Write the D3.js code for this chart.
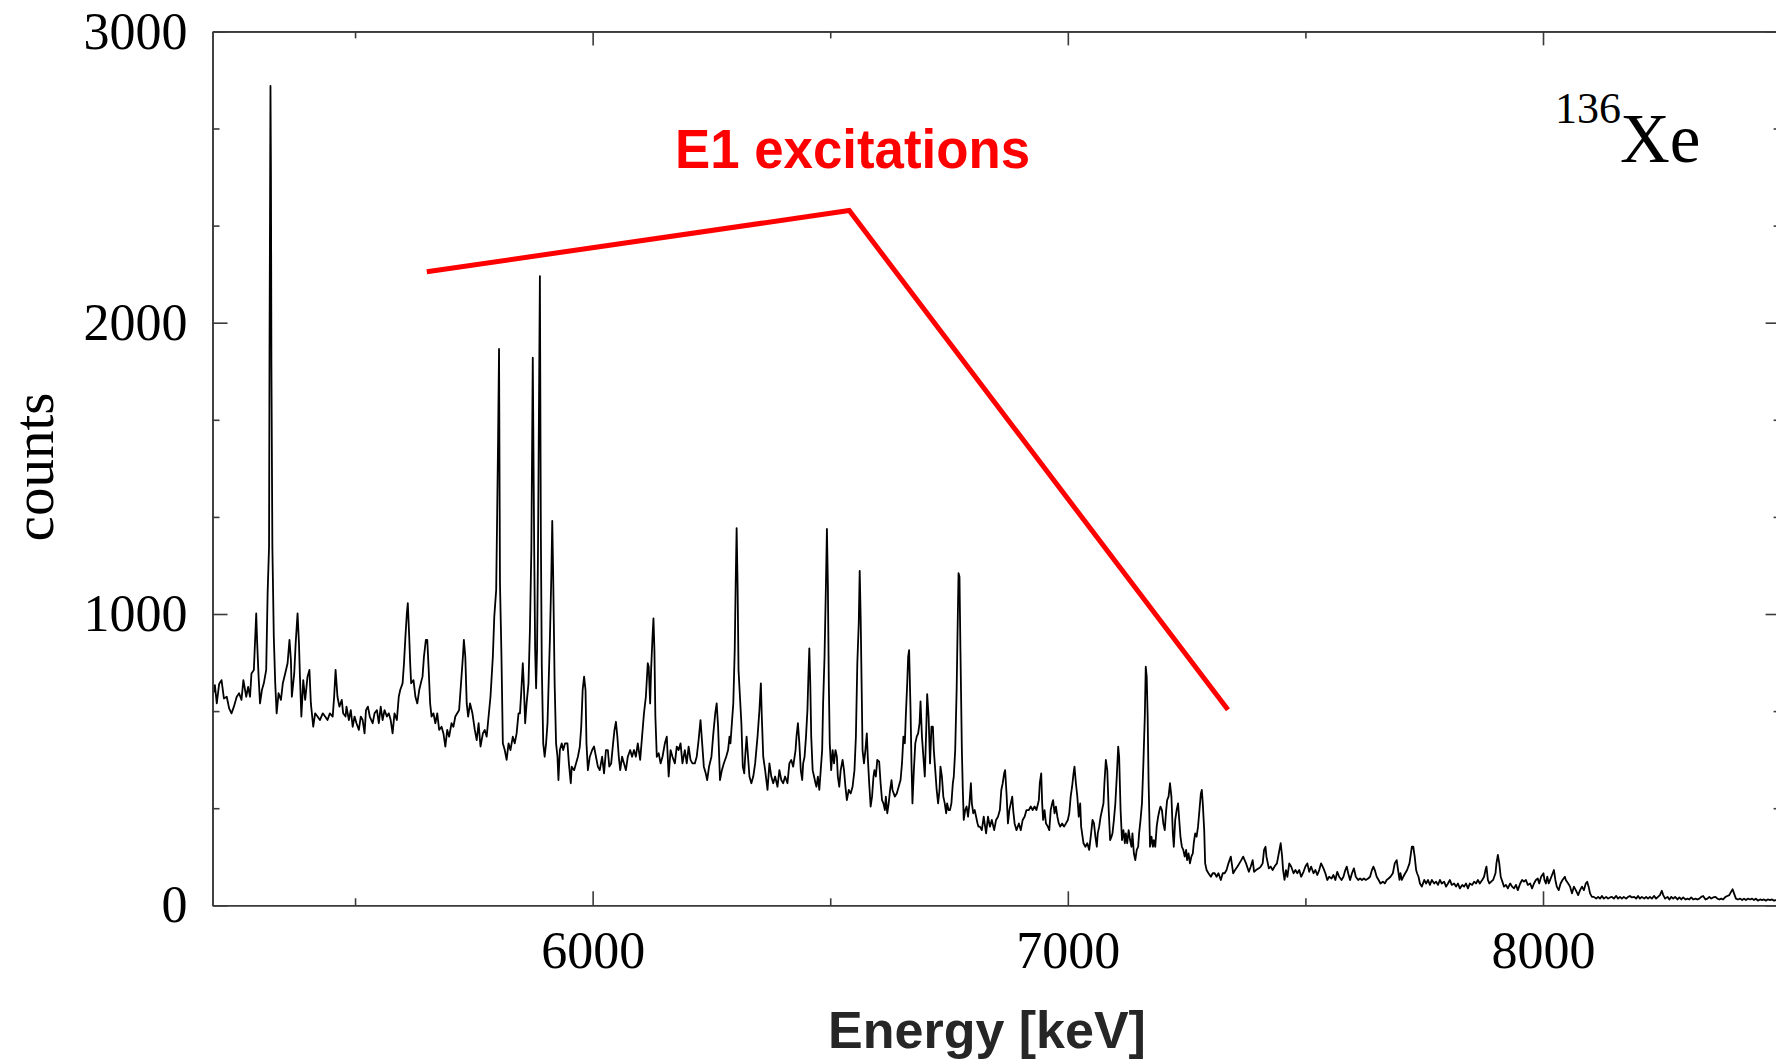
<!DOCTYPE html>
<meta charset="utf-8">
<html>
<head>
<style>
  body { margin: 0; background: #fff; }
  .frame .domain, .frame line { stroke: #3a3a3a; stroke-width: 1.6; }
  .frame text { font-family: "Liberation Serif", "Times New Roman", serif; font-size: 52px; fill: #000; }
</style>
<script src="https://d3js.org/d3.v7.min.js"></script>
</head>
<body>
<svg width="1776" height="1060"></svg>
<script>

// spectrum: energy [keV] and counts
var energy = [
  5200,5205,5209,5214,5219,5224,5230,5235,5240,5245,5251,5256,5261,5265,5271,5275,5279,5282,5287,5292,
  5294,5297,5300,5304,5308,5313,5316,5319,5320,5322,5323,5324,5326,5329,5332,5335,5339,5344,5348,5353,
  5358,5362,5365,5367,5372,5375,5379,5382,5384,5387,5391,5395,5400,5404,5407,5412,5416,5421,5426,5432,
  5437,5442,5447,5453,5456,5459,5463,5467,5472,5475,5480,5482,5487,5491,5495,5499,5503,5508,5512,5516,
  5520,5523,5527,5531,5537,5541,5546,5550,5554,5558,5562,5567,5571,5575,5579,5583,5588,5592,5595,5600,
  5603,5606,5609,5611,5614,5616,5618,5623,5627,5631,5635,5640,5642,5645,5649,5652,5655,5658,5661,5665,
  5669,5673,5677,5682,5686,5690,5694,5698,5703,5707,5711,5715,5719,5723,5727,5729,5732,5735,5738,5742,
  5747,5752,5756,5760,5764,5769,5773,5777,5781,5785,5790,5793,5797,5799,5801,5803,5805,5808,5811,5815,
  5819,5823,5827,5832,5836,5840,5844,5847,5850,5853,5855,5858,5861,5865,5868,5871,5874,5877,5879,5881,
  5883,5885,5887,5889,5891,5893,5896,5899,5902,5905,5907,5910,5913,5915,5917,5920,5923,5926,5928,5931,
  5935,5938,5942,5947,5950,5954,5956,5961,5965,5969,5973,5976,5979,5982,5985,5987,5990,5994,5999,6003,
  6007,6011,6015,6020,6024,6028,6032,6035,6039,6043,6046,6049,6052,6055,6058,6062,6066,6070,6074,6079,
  6083,6087,6091,6095,6100,6104,6108,6112,6116,6118,6121,6123,6126,6128,6130,6132,6135,6139,6143,6147,
  6152,6156,6160,6164,6168,6173,6177,6181,6185,6189,6194,6198,6202,6206,6210,6215,6219,6223,6227,6230,
  6234,6238,6241,6245,6250,6254,6258,6261,6264,6268,6272,6276,6281,6285,6288,6290,6293,6296,6299,6301,
  6303,6305,6307,6310,6313,6316,6319,6321,6324,6327,6330,6334,6338,6342,6347,6351,6354,6356,6359,6363,
  6368,6372,6376,6380,6384,6389,6393,6397,6401,6405,6410,6414,6418,6422,6427,6429,6432,6435,6438,6441,
  6443,6446,6449,6452,6454,6456,6458,6460,6463,6466,6469,6471,6474,6477,6480,6483,6485,6488,6491,6493,
  6495,6497,6499,6502,6505,6508,6511,6514,6516,6519,6522,6526,6529,6532,6535,6539,6543,6547,6551,6554,
  6557,6560,6562,6564,6566,6568,6571,6574,6577,6579,6582,6585,6588,6591,6593,6596,6599,6603,6606,6609,
  6612,6615,6617,6620,6623,6626,6629,6631,6636,6640,6644,6648,6651,6654,6657,6659,6662,6664,6666,6669,
  6671,6673,6676,6679,6682,6685,6688,6690,6693,6696,6699,6702,6704,6707,6710,6713,6716,6718,6721,6724,
  6727,6730,6732,6735,6738,6741,6744,6746,6749,6752,6755,6758,6760,6763,6766,6768,6770,6772,6774,6777,
  6779,6781,6784,6787,6790,6793,6796,6798,6801,6804,6807,6810,6812,6815,6819,6823,6828,6832,6836,6840,
  6845,6849,6853,6857,6860,6863,6866,6868,6871,6874,6877,6880,6883,6885,6888,6892,6897,6901,6905,6909,
  6913,6918,6922,6926,6930,6934,6939,6941,6944,6946,6948,6951,6954,6958,6961,6964,6967,6969,6972,6975,
  6978,6981,6984,6988,6992,6996,7000,7003,7006,7009,7012,7014,7017,7020,7023,7026,7028,7033,7037,7041,
  7045,7049,7052,7055,7058,7061,7063,7066,7069,7072,7075,7077,7080,7083,7086,7089,7092,7094,7097,7100,
  7103,7106,7108,7111,7114,7117,7120,7122,7125,7128,7131,7134,7136,7139,7142,7145,7148,7150,7153,7156,
  7159,7162,7164,7166,7168,7170,7173,7176,7179,7181,7184,7187,7190,7193,7195,7198,7201,7204,7207,7209,
  7212,7215,7218,7221,7223,7226,7229,7232,7235,7237,7240,7243,7246,7249,7251,7254,7257,7260,7263,7265,
  7268,7271,7274,7277,7280,7282,7284,7287,7289,7292,7296,7301,7305,7309,7313,7317,7322,7326,7330,7334,
  7338,7343,7345,7348,7352,7357,7361,7365,7369,7375,7381,7385,7389,7392,7396,7402,7406,7410,7413,7416,
  7418,7423,7427,7431,7435,7440,7444,7448,7451,7453,7456,7459,7462,7466,7470,7475,7479,7483,7487,7491,
  7496,7500,7504,7508,7512,7517,7521,7525,7529,7533,7538,7542,7546,7550,7555,7559,7563,7567,7571,7576,
  7580,7584,7587,7590,7594,7598,7602,7606,7611,7615,7619,7623,7627,7632,7636,7640,7643,7646,7650,7654,
  7658,7663,7667,7671,7675,7679,7684,7688,7692,7695,7698,7700,7703,7706,7710,7714,7719,7722,7724,7727,
  7730,7733,7735,7738,7741,7745,7750,7754,7758,7762,7766,7771,7775,7779,7783,7787,7792,7796,7800,7804,
  7808,7813,7817,7821,7825,7830,7834,7838,7842,7846,7851,7855,7859,7863,7867,7872,7876,7879,7881,7884,
  7887,7891,7895,7900,7902,7905,7908,7911,7918,7922,7926,7931,7935,7939,7943,7947,7952,7956,7960,7964,
  7968,7973,7977,7981,7985,7989,7992,7996,8001,8003,8006,8009,8012,8015,8019,8023,8026,8029,8033,8037,
  8041,8046,8048,8053,8057,8061,8065,8069,8074,8078,8082,8086,8090,8093,8096,8099,8103,8107,8112,8116,
  8120,8124,8128,8133,8137,8141,8145,8149,8154,8158,8162,8166,8170,8175,8179,8183,8187,8192,8196,8200,
  8204,8208,8213,8217,8221,8225,8229,8234,8238,8242,8246,8250,8253,8257,8262,8266,8270,8274,8278,8283,
  8287,8291,8295,8300,8304,8308,8312,8316,8321,8325,8329,8333,8337,8342,8346,8350,8354,8358,8363,8367,
  8371,8375,8379,8384,8388,8392,8396,8399,8402,8406,8410,8415,8419,8423,8427,8431,8436,8440,8444,8448,
  8452,8457,8461,8465,8469,8473,8478,8482,8486,8490,8500
];

var counts = [
  716,756,693,760,773,710,716,676,659,682,716,728,705,773,716,750,716,796,808,1002,
  900,785,693,739,762,808,1071,1231,1900,2813,2513,1850,1231,922,762,659,728,705,762,796,
  831,911,842,716,796,899,1002,899,785,648,773,705,785,808,693,613,659,648,636,659,
  648,636,659,648,716,808,716,682,705,659,648,682,636,670,613,648,625,602,648,636,
  590,670,682,648,625,659,670,625,682,636,670,648,659,636,590,659,636,716,739,762,
  831,922,1002,1037,922,831,762,773,716,693,739,773,785,854,911,911,808,693,648,659,
  625,659,602,613,590,545,602,579,625,613,648,659,670,762,854,911,854,693,648,693,
  659,602,567,625,545,590,602,579,648,716,854,991,1082,1334,1600,1910,1105,865,556,533,
  499,556,533,579,556,590,659,659,739,831,762,625,693,762,945,1220,1880,1220,876,745,
  876,1220,1700,2160,1277,819,556,510,556,625,739,911,1128,1320,1128,762,556,510,430,533,
  556,533,556,556,487,419,476,464,487,510,545,613,739,785,739,556,464,510,533,545,
  510,476,464,510,453,533,533,476,487,556,602,630,579,510,464,510,487,464,510,533,
  510,533,510,556,499,579,659,716,831,819,693,808,922,985,876,648,510,522,487,510,
  556,579,442,533,510,487,545,533,556,487,533,487,545,499,487,487,510,567,636,567,
  476,453,430,476,510,590,659,693,613,430,464,487,510,533,579,556,625,693,876,1105,
  1295,1105,808,716,625,476,453,510,579,510,442,419,442,487,579,670,762,648,510,464,
  396,487,442,419,442,407,464,430,419,442,419,487,499,476,533,579,625,556,464,430,
  487,510,579,670,785,882,762,579,464,442,419,407,442,396,464,533,693,854,1105,1292,
  1105,762,556,464,533,487,533,510,442,407,464,499,464,407,361,396,384,407,464,579,
  831,968,1148,991,762,533,487,533,590,510,419,339,373,442,464,442,499,493,419,361,
  350,327,373,316,350,396,430,396,373,384,407,430,487,579,556,648,762,854,876,670,
  487,350,464,556,579,590,625,700,579,510,442,602,725,648,487,613,613,533,464,396,
  350,396,476,442,373,350,316,350,327,327,350,419,442,533,739,945,1140,1128,876,533,
  396,293,327,339,304,350,419,350,316,327,304,281,270,270,258,304,247,304,270,293,
  258,293,304,327,396,419,453,464,384,281,327,350,373,327,281,258,281,258,293,304,
  327,327,339,327,339,327,361,419,453,350,293,327,281,270,258,327,350,361,316,339,
  304,281,270,281,270,281,293,316,373,407,453,476,419,373,304,350,270,213,201,213,
  190,247,293,281,236,201,247,270,304,327,350,419,499,464,327,224,236,247,293,350,
  442,545,510,327,224,258,213,247,213,258,224,201,247,178,155,190,201,247,293,350,
  487,648,819,785,648,419,201,236,201,224,201,270,304,327,339,327,281,258,327,361,
  373,419,373,247,201,293,327,350,281,236,201,190,167,190,155,178,144,167,178,213,
  247,236,270,327,384,396,350,258,144,121,110,98,110,110,98,110,87,110,110,121,
  144,167,144,110,121,133,144,155,167,144,115,133,155,115,121,127,133,144,190,201,
  167,127,133,121,133,144,178,213,167,121,87,121,98,144,133,110,121,110,121,98,
  115,133,144,115,133,110,121,104,121,144,127,110,87,98,92,104,87,115,98,87,
  98,121,133,110,87,110,127,98,87,92,87,92,87,92,98,121,133,121,98,87,
  75,81,75,87,92,98,110,144,155,121,87,110,87,98,110,121,144,178,201,201,
  167,121,110,98,75,64,87,75,87,70,87,75,81,70,87,75,81,64,75,87,
  70,75,64,75,58,70,64,75,58,75,70,81,75,87,75,87,98,121,133,87,
  75,81,87,110,144,173,144,98,64,70,58,75,64,58,70,52,75,87,81,87,
  70,75,58,75,87,92,75,98,110,87,75,98,75,87,104,121,87,64,52,75,
  87,98,87,75,64,41,64,52,35,52,64,52,75,81,64,41,29,29,23,29,
  23,32,23,29,23,27,29,23,32,23,29,23,29,23,29,32,27,29,23,32,
  23,29,23,29,23,29,23,32,23,29,35,50,35,23,29,20,29,23,29,20,
  27,20,27,20,23,20,27,20,23,20,23,29,32,20,23,29,23,27,29,23,
  20,23,20,29,32,35,47,55,41,23,20,23,18,23,18,23,20,23,18,23,
  16,20,18,20,16,20,18,20,16,18,17
];

// axis ticks
var xMajor = [6000, 7000, 8000];
var xMinor = [5500, 6500, 7500, 8500];
var yMajor = [0, 1000, 2000, 3000];
var yMinor = [333.3, 666.7, 1333.3, 1666.7, 2333.3, 2666.7];

// red "E1 excitations" bracket, in data units
var bracketE = [5651, 6540, 7337];
var bracketC = [2175, 2385, 671];

var svg = d3.select("svg");
svg.append("rect").attr("width", 1776).attr("height", 1060).attr("fill", "#fff");

var x = d3.scaleLinear().domain([5200, 8500]).range([212.5, 1780.6]),
    y = d3.scaleLinear().domain([0, 3000]).range([905.3, 31.4]);

var plotL = x.range()[0], plotR = x.range()[1],
    plotT = y.range()[1], plotB = y.range()[0];

var spectrum = energy.map(function(e, i) { return { e: e, c: counts[i] }; });

svg.append("defs").append("clipPath").attr("id", "plot")
   .append("rect").attr("x", plotL).attr("y", plotT)
   .attr("width", plotR - plotL).attr("height", plotB - plotT);

svg.append("path")
   .datum(spectrum)
   .attr("clip-path", "url(#plot)")
   .attr("fill", "none")
   .attr("stroke", "#000")
   .attr("stroke-width", 1.8)
   .attr("stroke-linejoin", "round")
   .attr("d", d3.line()
      .defined(function(d) { return d.c != null; })
      .x(function(d) { return x(d.e); })
      .y(function(d) { return y(d.c); }));

// frame: four axes, ticks pointing inward
var frame = svg.append("g").attr("class", "frame");
var fmt = d3.format("d");

frame.append("g").attr("transform", "translate(0," + plotB + ")")
   .call(d3.axisBottom(x).tickValues(xMajor).tickSize(-14).tickSizeOuter(0).tickPadding(26).tickFormat(fmt));
frame.append("g").attr("transform", "translate(0," + plotB + ")")
   .call(d3.axisBottom(x).tickValues(xMinor).tickSize(-7).tickSizeOuter(0).tickFormat(""));
frame.append("g").attr("transform", "translate(0," + plotT + ")")
   .call(d3.axisTop(x).tickValues(xMajor).tickSize(-14).tickSizeOuter(0).tickFormat(""));
frame.append("g").attr("transform", "translate(0," + plotT + ")")
   .call(d3.axisTop(x).tickValues(xMinor).tickSize(-7).tickSizeOuter(0).tickFormat(""));

frame.append("g").attr("transform", "translate(" + plotL + ",0)")
   .call(d3.axisLeft(y).tickValues(yMajor).tickSize(-15).tickSizeOuter(0).tickPadding(25).tickFormat(fmt));
frame.append("g").attr("transform", "translate(" + plotL + ",0)")
   .call(d3.axisLeft(y).tickValues(yMinor).tickSize(-7).tickSizeOuter(0).tickFormat(""));
frame.append("g").attr("transform", "translate(" + plotR + ",0)")
   .call(d3.axisRight(y).tickValues(yMajor).tickSize(-15).tickSizeOuter(0).tickFormat(""));
frame.append("g").attr("transform", "translate(" + plotR + ",0)")
   .call(d3.axisRight(y).tickValues(yMinor).tickSize(-7).tickSizeOuter(0).tickFormat(""));

frame.selectAll("text").attr("font-family", null).attr("font-size", null);

// axis titles
svg.append("text")
   .attr("x", 987)
   .attr("y", 1048)
   .attr("text-anchor", "middle")
   .style("font-family", "'Liberation Sans', Arial, sans-serif")
   .style("font-weight", "bold")
   .style("font-size", "52px")
   .style("fill", "#262626")
   .text("Energy [keV]");

svg.append("text")
   .attr("transform", "translate(53,467) rotate(-90)")
   .attr("text-anchor", "middle")
   .style("font-family", "'Liberation Serif', 'Times New Roman', serif")
   .style("font-size", "57px")
   .style("fill", "#000")
   .text("counts");

// nucleus label
var lab = svg.append("text")
   .style("font-family", "'Liberation Serif', 'Times New Roman', serif")
   .style("fill", "#000");
lab.append("tspan").attr("x", 1555).attr("y", 123).style("font-size", "44px").text("136");
lab.append("tspan").attr("x", 1620).attr("y", 162).style("font-size", "69px").text("Xe");

// E1 annotation
var bracket = bracketE.map(function(e, i) { return { e: e, c: bracketC[i] }; });
svg.append("path")
   .datum(bracket)
   .attr("fill", "none")
   .attr("stroke", "#ff0000")
   .attr("stroke-width", 5)
   .attr("d", d3.line().x(function(d) { return x(d.e); }).y(function(d) { return y(d.c); }));

svg.append("text")
   .attr("x", 675)
   .attr("y", 168)
   .attr("textLength", 355)
   .attr("lengthAdjust", "spacingAndGlyphs")
   .style("font-family", "'Liberation Sans', Arial, sans-serif")
   .style("font-weight", "bold")
   .style("font-size", "55px")
   .style("fill", "#ff0000")
   .text("E1 excitations");

</script>
</body>
</html>
